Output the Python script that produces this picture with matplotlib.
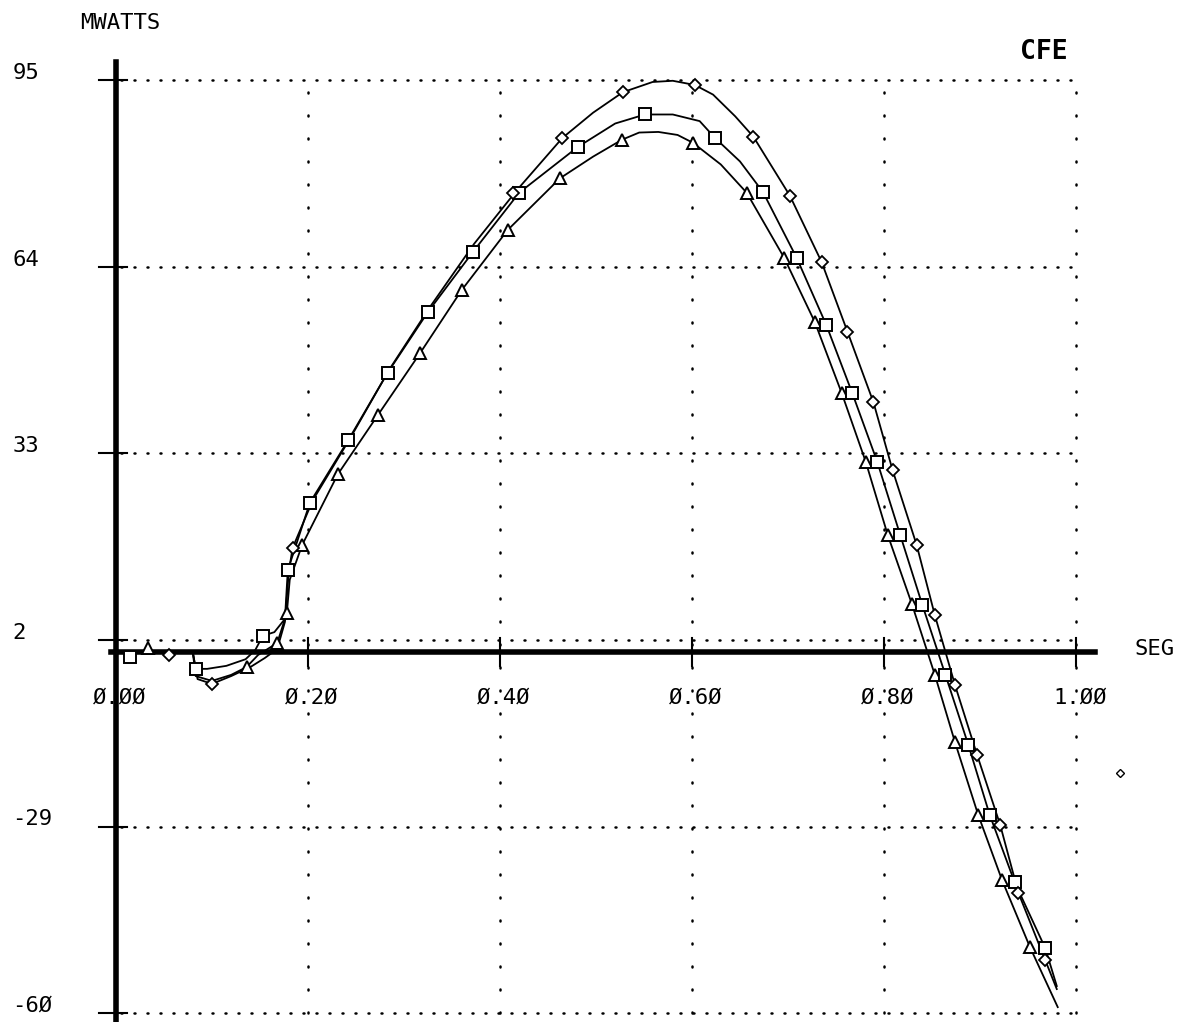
import matplotlib
matplotlib.use("Agg")
import matplotlib.pyplot as plt

# ticks / labels
x_ticks = [0.0, 0.2, 0.4, 0.6, 0.8, 1.0]
x_labels = ["Ø.ØØ", "Ø.2Ø", "Ø.4Ø", "Ø.6Ø", "Ø.8Ø", "1.ØØ"]
y_ticks = [95, 64, 33, 2, -29, -60]
y_labels = ["95", "64", "33", "2", "-29", "-6Ø"]

# triangle curve (lowest peak)
tri_line_x = [0.0, 0.08, 0.083, 0.10, 0.12, 0.136, 0.148, 0.168, 0.178, 0.181, 0.194, 0.231,
              0.273, 0.317, 0.36, 0.408, 0.4625, 0.497, 0.527, 0.545, 0.565, 0.585, 0.601,
              0.63, 0.657, 0.696, 0.728, 0.756, 0.781, 0.804, 0.829, 0.853, 0.874, 0.898,
              0.923, 0.952, 0.981]
tri_line_y = [0, 0, -4.0, -4.8, -3.8, -2.5, -0.5, 1.5, 6.5, 12, 17.8, 29.5,
              39.4, 49.7, 60.1, 70.1, 78.7, 82.3, 85.1, 86.3, 86.4, 85.9, 84.6,
              81, 76.3, 65.5, 54.8, 43, 31.6, 19.4, 8, -3.8, -15, -27,
              -37.9, -49, -59]
tri_x = [0.033, 0.136, 0.168, 0.178, 0.194, 0.231, 0.273, 0.317, 0.36, 0.408, 0.4625, 0.527,
         0.601, 0.657, 0.696, 0.728, 0.756, 0.781, 0.804, 0.829, 0.853, 0.874, 0.898, 0.923, 0.952]
tri_y = [0.6, -2.5, 1.5, 6.5, 17.8, 29.5, 39.4, 49.7, 60.1, 70.1, 78.7, 85.1,
         84.6, 76.3, 65.5, 54.8, 43, 31.6, 19.4, 8, -3.8, -15, -27, -37.9, -49]

# square curve (middle)
sq_line_x = [0.0, 0.08, 0.083, 0.095, 0.115, 0.135, 0.145, 0.153, 0.165, 0.176, 0.179, 0.202,
             0.242, 0.283, 0.325, 0.372, 0.42, 0.481, 0.52, 0.551, 0.58, 0.608, 0.624, 0.65,
             0.674, 0.709, 0.74, 0.767, 0.793, 0.817, 0.840, 0.864, 0.888, 0.91, 0.936,
             0.968, 0.98]
sq_line_y = [0, 0, -2.8, -2.8, -2.3, -1.2, 0.3, 2.7, 3.3, 5.5, 13.6, 24.8,
             35.2, 46.4, 56.5, 66.5, 76.3, 83.9, 87.8, 89.3, 89.3, 88.2, 85.4, 81.5,
             76.4, 65.5, 54.3, 43, 31.6, 19.4, 7.8, -3.8, -15.5, -27, -38.2,
             -49.2, -55.5]
sq_x = [0.015, 0.083, 0.153, 0.179, 0.202, 0.242, 0.283, 0.325, 0.372, 0.42, 0.481, 0.551,
        0.624, 0.674, 0.709, 0.74, 0.767, 0.793, 0.817, 0.840, 0.864, 0.888, 0.91, 0.936, 0.968]
sq_y = [-0.8, -2.8, 2.7, 13.6, 24.8, 35.2, 46.4, 56.5, 66.5, 76.3, 83.9, 89.3,
        85.4, 76.4, 65.5, 54.3, 43, 31.6, 19.4, 7.8, -3.8, -15.5, -27, -38.2, -49.2]

# diamond curve (highest peak)
dia_line_x = [0.0, 0.08, 0.085, 0.10, 0.12, 0.14, 0.155, 0.168, 0.176, 0.18, 0.184, 0.205,
              0.245, 0.285, 0.327, 0.373, 0.418, 0.465, 0.497, 0.528, 0.559, 0.58, 0.603,
              0.622, 0.645, 0.664, 0.702, 0.735, 0.762, 0.789, 0.809, 0.834, 0.853, 0.874,
              0.897, 0.921, 0.94, 0.968, 0.98]
dia_line_y = [0, 0, -4.5, -5.3, -4.0, -2.5, -1.0, 0.5, 5, 13.3, 17.3, 25.2,
              35.8, 47, 57.3, 67.8, 76.8, 85.4, 89.6, 93.0, 94.7, 94.9, 94.2,
              92.6, 89.0, 85.6, 75.8, 64.8, 53.2, 41.5, 30.2, 17.8, 6.1, -5.5,
              -17.1, -28.7, -40, -51.2, -56]
dia_x = [0.055, 0.10, 0.184, 0.414, 0.465, 0.528, 0.603, 0.664, 0.702, 0.735, 0.762, 0.789,
         0.809, 0.834, 0.853, 0.874, 0.897, 0.921, 0.94, 0.968]
dia_y = [-0.5, -5.3, 17.3, 76.3, 85.4, 93.0, 94.2, 85.6, 75.8, 64.8, 53.2, 41.5,
         30.2, 17.8, 6.1, -5.5, -17.1, -28.7, -40, -51.2]

stray_x = [1.046]
stray_y = [-20.1]

fig = plt.figure(figsize=(11.86, 10.22), dpi=100)
ax = fig.add_axes([0, 0, 1, 1])
ax.set_xlim(-0.1208, 1.1146)
ax.set_ylim(-61.47, 108.32)
ax.axis("off")

font = "DejaVu Sans Mono"

# dotted grid
for yt in y_ticks:
    ax.plot([0.005, 1.0], [yt, yt], color="black", lw=1.8,
            linestyle=(0, (0.4, 4.8)), dash_capstyle="round")
for xt in x_ticks[1:]:
    ax.plot([xt, xt], [-60, 95], color="black", lw=1.8,
            linestyle=(0, (0.4, 8.8)), dash_capstyle="round")

# thick axes
ax.plot([0, 0], [-61.5, 98], color="black", lw=4.0)
ax.plot([-0.005, 1.02], [0, 0], color="black", lw=4.0)
for xt in x_ticks[1:]:
    ax.plot([xt, xt], [-2.3, 2.3], color="black", lw=1.5)
for yt in y_ticks:
    ax.plot([-0.018, 0.012], [yt, yt], color="black", lw=1.5)

# curves
ax.plot(tri_line_x, tri_line_y, color="black", lw=1.3)
ax.plot(sq_line_x, sq_line_y, color="black", lw=1.3)
ax.plot(dia_line_x, dia_line_y, color="black", lw=1.3)
ax.plot(tri_x, tri_y, linestyle="none", marker="^", ms=9, mfc="white", mec="black", mew=1.4)
ax.plot(sq_x, sq_y, linestyle="none", marker="s", ms=8, mfc="white", mec="black", mew=1.4)
ax.plot(dia_x, dia_y, linestyle="none", marker="D", ms=6, mfc="white", mec="black", mew=1.3)
ax.plot(stray_x, stray_y, linestyle="none", marker="D", ms=4, mfc="white", mec="black", mew=1.0)

# tick labels
for xt, lab in zip(x_ticks, x_labels):
    ax.text(xt + 0.004, -7.5, lab, ha="center", va="center", fontsize=16, family=font)
for yt, lab in zip(y_ticks, y_labels):
    ax.text(-0.108, yt + 1.2, lab, ha="left", va="center", fontsize=16, family=font)

ax.text(0.004, 104.5, "MWATTS", ha="center", va="center", fontsize=16, family=font)
ax.text(0.966, 99.7, "CFE", ha="center", va="center", fontsize=19, family=font, fontweight="bold")
ax.text(1.061, 0.5, "SEG", ha="left", va="center", fontsize=16, family=font)

fig.savefig("out.png", dpi=100)
